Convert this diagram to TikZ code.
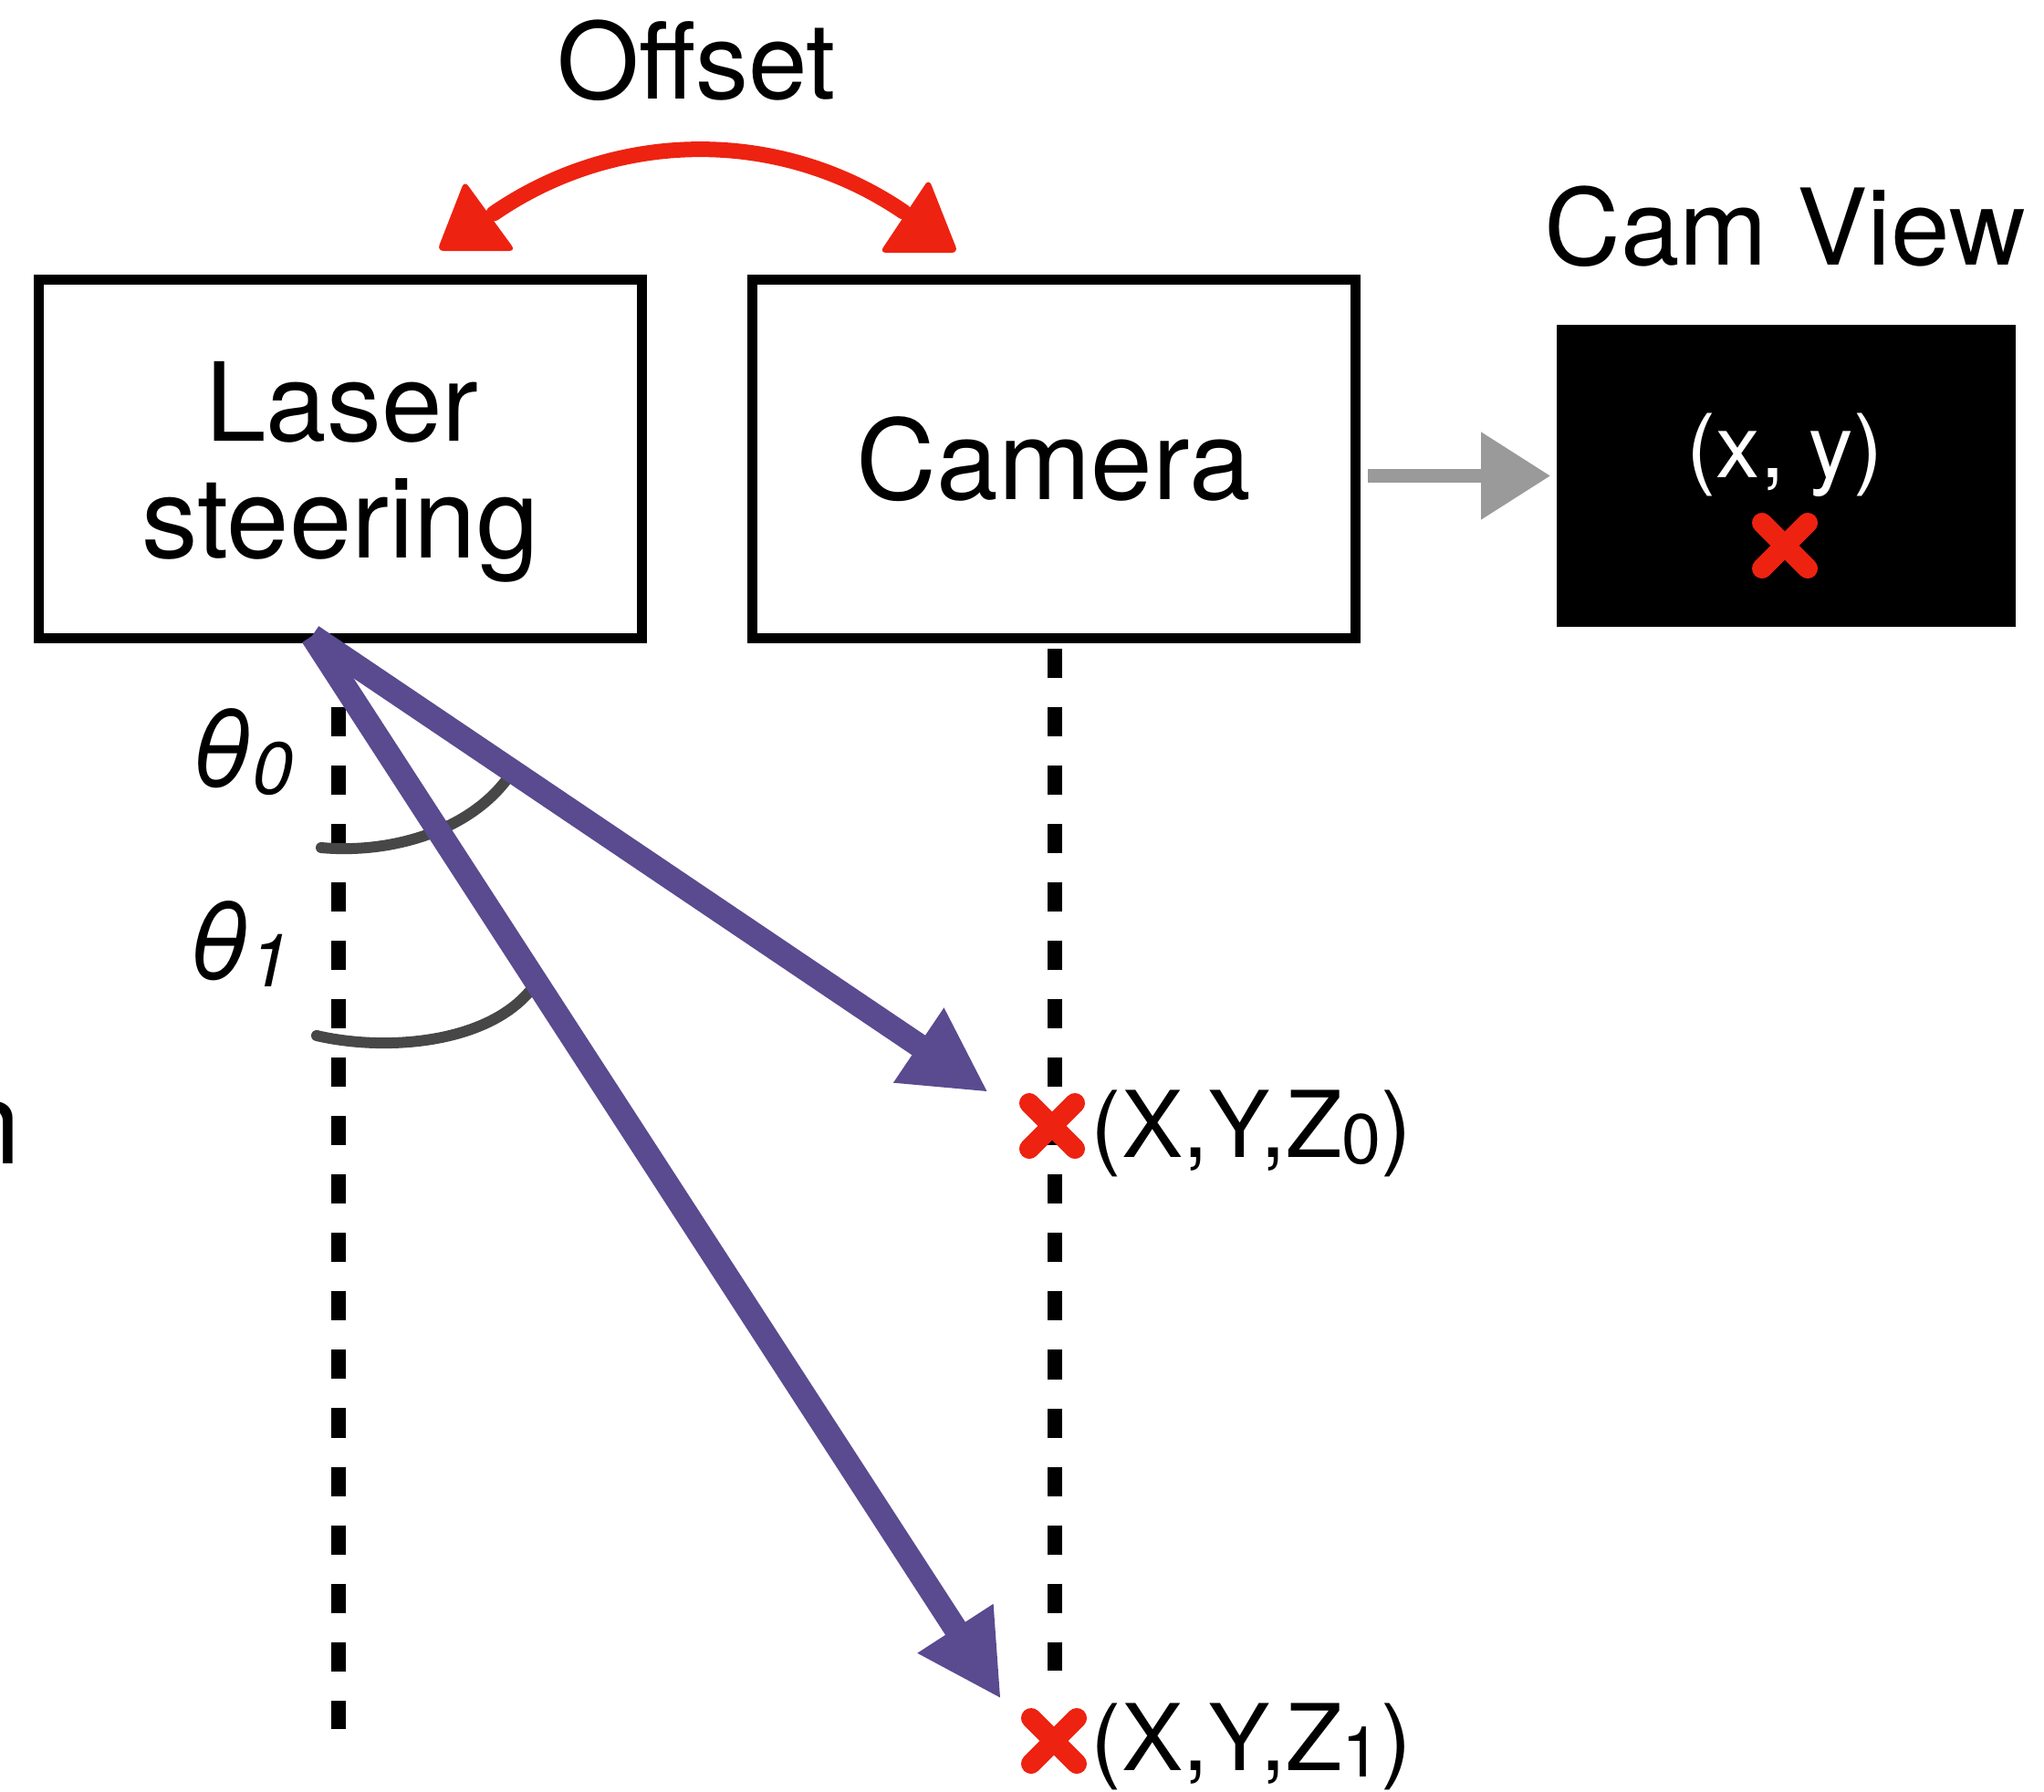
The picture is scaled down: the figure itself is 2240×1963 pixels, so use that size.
\documentclass[tikz,border=0pt]{standalone}
\usepackage{fontspec}
\setmainfont{TeX Gyre Heros}
\usetikzlibrary{arrows.meta}
\definecolor{xred}{HTML}{EE2211}
\definecolor{beam}{HTML}{5A4A8F}
\definecolor{arcgray}{HTML}{474747}
\definecolor{flowgray}{HTML}{9A9A9A}
\begin{document}
\begin{tikzpicture}[x=0.01cm,y=-0.01cm,
  boxnode/.style={draw=black,line width=0.11cm,rectangle,inner sep=0pt,
    minimum width=6.61cm,minimum height=3.93cm},
  bigtext/.style={inner sep=0pt,font=\fontsize{34}{36}\selectfont},
  titletext/.style={inner sep=0pt,font=\fontsize{33}{35}\selectfont},
  coordtext/.style={inner sep=0pt,font=\fontsize{28.7}{31}\selectfont},
  thetatext/.style={inner sep=0pt,font=\fontsize{33}{35}\selectfont\itshape},
  dashline/.style={line width=0.16cm,dash pattern=on 0.32cm off 0.32cm,line cap=butt},
  beamarrow/.style={draw=beam,line width=0.26cm,line cap=butt,
    -{Triangle[length=0.92cm,width=0.92cm]}},
  anglearc/.style={draw=arcgray,line width=0.12cm,line cap=round},
  xmark/.style={rectangle,minimum size=0.5cm,inner sep=0pt,outer sep=0pt},
  xstroke/.style={draw=xred,line width=0.22cm,line cap=round},
  flowarrow/.style={draw=flowgray,line width=0.15cm,
    -{Triangle[length=0.76cm,width=0.92cm]}},
  offsetline/.style={draw=xred,line width=0.17cm,line cap=round},
]
\useasboundingbox (0,0) rectangle (2240,1963);

% boxes
\node[boxnode] (laser) at (373,503) {};
\node[bigtext,anchor=base] (laserl1) at (375,483) {Laser};
\node[inner sep=0pt,font=\fontsize{35}{37}\selectfont,anchor=base] (laserl2) at (373,611) {steering};
\node[boxnode,font=\fontsize{34.6}{36}\selectfont] (camera) at (1155,503) {Camera};
\node[fill=black,rectangle,inner sep=0pt,minimum width=5.03cm,minimum height=3.31cm] (camview) at (1957.5,521.5) {};

% titles
\node[titletext,anchor=base] (offset) at (763,108) {Offset};
\node[titletext,anchor=base] (camviewtitle) at (1956,290) {Cam View};
\node[inner sep=0pt,anchor=base east,font=\fontsize{36}{38}\selectfont] (cutn) at (24,1275) {n};

% cam view contents
\node[inner sep=0pt,anchor=base,text=white,font=\fontsize{27.5}{30}\selectfont] (xy) at (1956,523) {(x, y)};
\node[xmark] (camx) at (1956,598) {};
\draw[xstroke] (camx.north west) -- (camx.south east) (camx.north east) -- (camx.south west);

% dashed verticals
\coordinate (ltop) at (371,775);
\coordinate (lbot) at (371,1895);
\coordinate (rtop) at (1155.5,711);
\coordinate (rbot) at (1155.5,1831);
\draw[dashline] (ltop) -- (lbot);
\draw[dashline] (rtop) -- (rbot);

% angle arcs
\coordinate (a0s) at (352,929);
\coordinate (a0e) at (557,852);
\coordinate (a1s) at (347,1135);
\coordinate (a1e) at (580,1087);
\draw[anglearc] (a0s) .. controls (430,936) and (515,910) .. (a0e);
\draw[anglearc] (a1s) .. controls (420,1152) and (530,1145) .. (a1e);

% theta labels
\node[thetatext,anchor=base] (th0) at (265,862) {θ\raisebox{-2.3pt}{\fontsize{23}{23}\selectfont 0}};
\node[thetatext,anchor=base] (th1) at (262,1073) {θ\raisebox{-2.3pt}{\fontsize{23}{23}\selectfont 1}};

% beams
\coordinate (src) at (342,697);
\coordinate (tip0) at (1083,1197);
\coordinate (tip1) at (1097,1862);
\draw[beamarrow] (src) -- (tip0);
\draw[beamarrow] (src) -- (tip1);

% target marks
\node[xmark] (m0) at (1153,1234) {};
\draw[xstroke] (m0.north west) -- (m0.south east) (m0.north east) -- (m0.south west);
\node[xmark] (m1) at (1155,1908) {};
\draw[xstroke] (m1.north west) -- (m1.south east) (m1.north east) -- (m1.south west);
\node[coordtext,anchor=base west] (z0lbl) at (1195,1268) {(X,Y,Z\raisebox{-2pt}{\fontsize{22}{22}\selectfont 0})};
\node[coordtext,anchor=base west] (z1lbl) at (1195,1940) {(X,Y,Z\raisebox{-2pt}{\fontsize{22}{22}\selectfont 1})};

% camera -> cam view
\coordinate (ga) at (camera.east |- camview.west);
\draw[flowarrow] ([xshift=0.08cm]ga) -- ([xshift=-0.06cm]camview.west);

% offset double arrow
\coordinate (ol) at (541,234);
\coordinate (or) at (990,232);
\draw[offsetline] (ol) .. controls (676,141) and (855,140) .. (or);
\fill[xred,rounded corners=2pt] (479,275) -- (565,275) -- (509,198) -- cycle;
\fill[xred,rounded corners=2pt] (964,277) -- (1050,277) -- (1018,196) -- cycle;
\end{tikzpicture}
\end{document}
